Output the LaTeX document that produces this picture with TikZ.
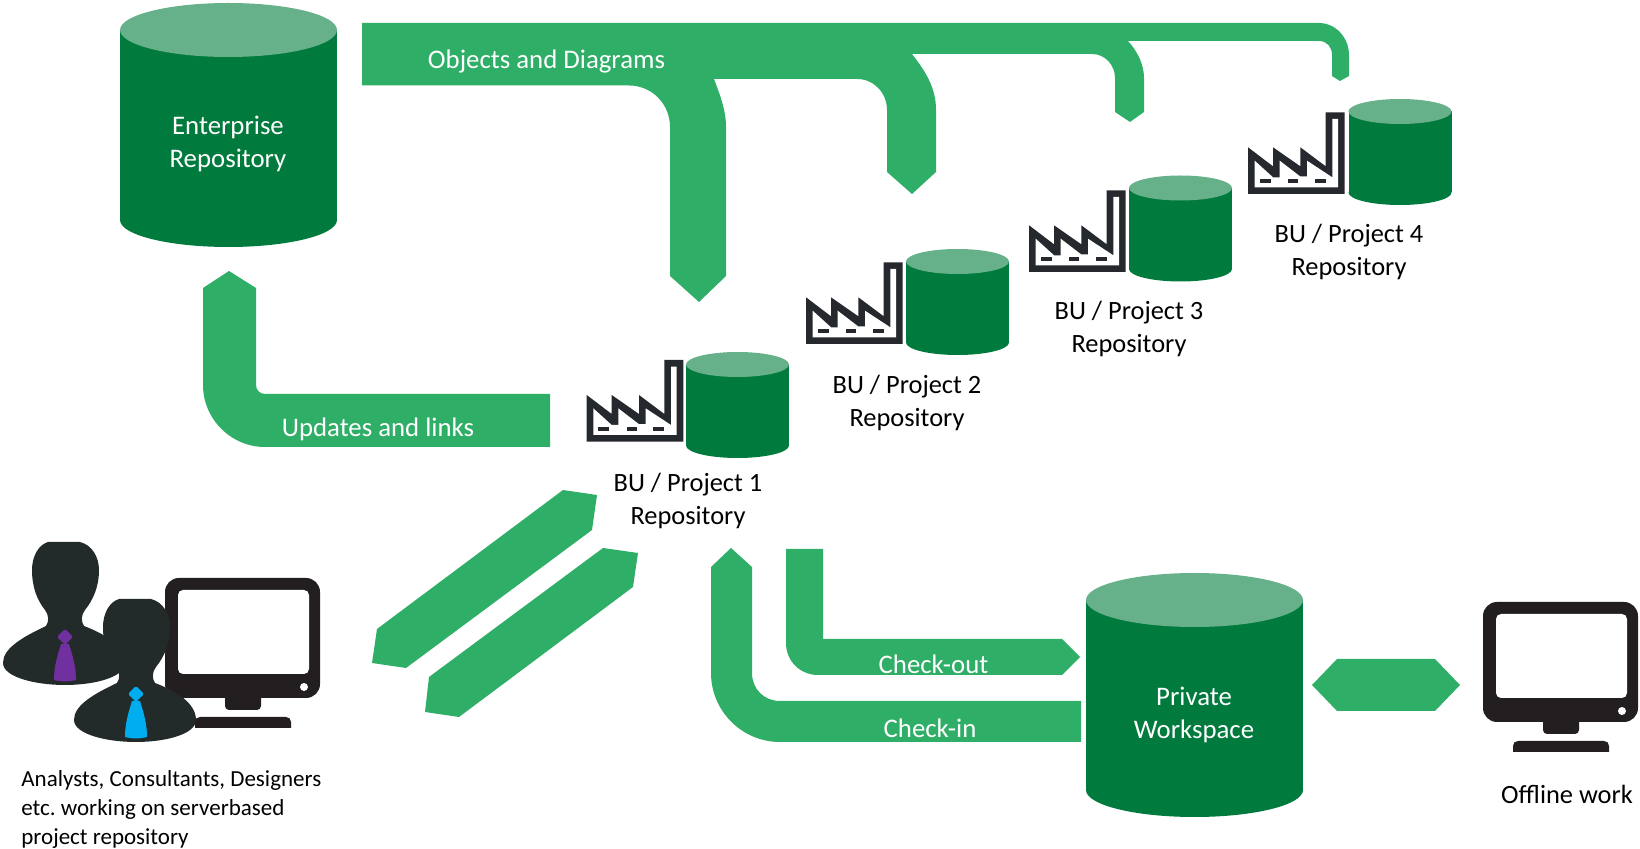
\documentclass[tikz,border=0pt]{standalone}
\usepackage{fontspec}
\setmainfont{Carlito}
\definecolor{arrowgreen}{HTML}{2FAE67}
\definecolor{cyldark}{HTML}{007A3D}
\definecolor{cyltop}{HTML}{66B08A}
\definecolor{persondark}{HTML}{232A2A}
\definecolor{screendark}{HTML}{231F20}
\definecolor{factorydark}{HTML}{25282D}
\definecolor{tiepurple}{HTML}{7030A0}
\definecolor{tieblue}{HTML}{00AEEF}

\begin{document}
\begin{tikzpicture}[
    x=0.5pt, y=-0.5pt,
    inarrow/.style={font=\fontsize{13.4}{16.5}\selectfont, text=white, align=center, inner sep=0pt, anchor=base},
    caption/.style={font=\fontsize{13.2}{16.5}\selectfont, text=black, align=center, inner sep=0pt, anchor=base},
    blockarrow/.style={fill=arrowgreen},
    pics/repocyl/.style n args={3}{code={
        \fill[cyldark] (0,#2-#3) ellipse [x radius=#1, y radius=#3];
        \fill[cyldark] (-#1,-#2+#3) rectangle (#1,#2-#3);
        \fill[cyltop] (0,-#2+#3) ellipse [x radius=#1, y radius=#3];
    }},
    pics/bigrepo/.style={/tikz/pics/repocyl={108.5}{122}{27}},
    pics/smallrepo/.style={/tikz/pics/repocyl={51.5}{53}{12.5}},
    pics/factory/.style={code={
        \fill[factorydark] (0,-46.7) -- (25,-27.7) -- (25,-46.7) -- (52.3,-27.7) -- (52.3,-46.7) -- (77.7,-27.7)
            -- (77.7,-81.7) -- (96.7,-81.7) -- (96.7,0) -- (0,0) -- cycle;
        \fill[white] (6.7,-33.3) -- (25,-16.7) -- (31.7,-16.7) -- (31.7,-33.3) -- (52.3,-17.5) -- (59,-17.5) -- (59,-33.3)
            -- (84.3,-16.7) -- (84.3,-75) -- (90,-75) -- (90,-6.7) -- (6.7,-6.7) -- cycle;
        \foreach \a/\b in {11.7/22.7, 40/50, 66.7/77.7}
            \fill[factorydark] (\a,-15) rectangle (\b,-10.7);
    }},
    pics/monitor/.style={code={
        \fill[screendark, rounded corners=7pt] (0,0) rectangle (155,120);
        \fill[white, rounded corners=2.5pt] (13,12) rectangle (144,96);
        \fill[white] (139,109) circle (2pt);
        \fill[screendark, rounded corners=2pt] (60,110) rectangle (96,132);
        \fill[screendark] (30,150) -- (30,144) .. controls (30,141) and (32,139) .. (35,139)
            -- (121,139) .. controls (124,139) and (126,141) .. (126,144) -- (126,150) -- cycle;
    }},
    pics/person/.style={code={
        \fill[persondark] (-17,0) -- (15,0) .. controls (27,3) and (34,15) .. (34,28)
            .. controls (34,45) and (28,58) .. (20,68) .. controls (16,73) and (16,80) .. (19,84)
            .. controls (40,92) and (60,104) .. (60,121) .. controls (60,135) and (30,143) .. (0,143)
            .. controls (-30,143) and (-62,135) .. (-62,121) .. controls (-62,106) and (-42,95) .. (-19,84)
            .. controls (-16,80) and (-16,73) .. (-20,68) .. controls (-28,58) and (-33,45) .. (-33,28)
            .. controls (-33,15) and (-27,3) .. (-17,0) -- cycle;
        \fill[#1, rounded corners=1pt] (0,87) -- (8,95) -- (0,103) -- (-8,95) -- cycle;
        \fill[#1] (-4,102) .. controls (-8,115) and (-11,125) .. (-11,138) .. controls (-4,140) and (4,140) .. (11,138)
            .. controls (11,125) and (8,115) .. (4,102) -- cycle;
    }},
]
    \useasboundingbox (0,0) rectangle (1640,849);

    % repositories
    \pic (enterprise) at (228.5,125) {bigrepo};
    \pic (private) at (1194.5,695) {bigrepo};
    \pic (repoone) at (737.5,405) {smallrepo};
    \pic (repotwo) at (957.5,302) {smallrepo};
    \pic (repothree) at (1180.5,228.5) {smallrepo};
    \pic (repofour) at (1400,152) {smallrepo};

    \pic (facone) at (586.7,441.7) {factory};
    \pic (factwo) at (806,344) {factory};
    \pic (facthree) at (1029,272) {factory};
    \pic (facfour) at (1248,194) {factory};

    \node[inarrow] (entlabel) at (228,168) {Enterprise\\Repository};
    \node[inarrow] (privlabel) at (1194,739) {Private\\Workspace};
    \node[caption] (onelabel) at (688,525) {BU / Project 1\\Repository};
    \node[caption] (twolabel) at (907,426.5) {BU / Project 2\\Repository};
    \node[caption] (threelabel) at (1129,353) {BU / Project 3\\Repository};
    \node[caption] (fourlabel) at (1349,276) {BU / Project 4\\Repository};

    % block arrows
    \fill[blockarrow] (362,23) -- (362,85.5) -- (629,85.5) .. controls (652,85.5) and (670,104) .. (670,127)
        -- (670,276) -- (699,302) -- (726,276) -- (726,127) .. controls (726,110) and (720,95) .. (714,79)
        -- (857,79) .. controls (874,79) and (887,93) .. (887,110) -- (887,172) -- (912,194) -- (936,172)
        -- (936,110) .. controls (936,88) and (926,72) .. (912,54) -- (1092,54) .. controls (1105,54) and (1115,65) .. (1115,78)
        -- (1115,112) -- (1130,122) -- (1144,112) -- (1144,78) .. controls (1144,65) and (1138,52) .. (1128,41)
        -- (1319,41) .. controls (1327,41) and (1332,47) .. (1332,55) -- (1332,76) -- (1340,81) -- (1349,76)
        -- (1349,55) .. controls (1349,38) and (1336,23) .. (1319,23) -- cycle;
    \fill[blockarrow] (229,271) -- (256,288) -- (256,385) .. controls (256,390) and (260,394) .. (265,394)
        -- (550,394) -- (550,447) -- (265,447) .. controls (231,447) and (203,419) .. (203,385) -- (203,288) -- cycle;
    \fill[blockarrow] (563,490) -- (597,495) -- (592,530) -- (406,668) -- (372,663) -- (377,629) -- cycle;
    \fill[blockarrow] (603,548) -- (638,553) -- (633,587) -- (459,717) -- (425,712) -- (429,677) -- cycle;
    \fill[blockarrow] (731,548) -- (752,567) -- (752,673) .. controls (752,689) and (764,701) .. (780,701)
        -- (1081,701) -- (1081,742) -- (780,742) .. controls (742,742) and (711,711) .. (711,673) -- (711,567) -- cycle;
    \fill[blockarrow] (786,549) -- (823,549) -- (823,639) -- (1062,639) -- (1080,657) -- (1062,675) -- (818,675)
        .. controls (800,675) and (786,661) .. (786,643) -- cycle;
    \fill[blockarrow] (1312,685) -- (1337,659) -- (1435,659) -- (1460,685) -- (1435,711) -- (1337,711) -- cycle;

    \node[inarrow] (objects) at (546.5,69) {Objects and Diagrams};
    \node[inarrow] (updates) at (378,437) {Updates and links};
    \node[inarrow] (checkout) at (933.5,674) {Check-out};
    \node[inarrow] (checkin) at (930,738) {Check-in};

    % people and screens
    \pic (deskscreen) at (165,578) {monitor};
    \pic (offscreen) at (1483,602) {monitor};
    \pic (analyst) at (65,542) {person=tiepurple};
    \pic (designer) at (136,599) {person=tieblue};

    \node[caption, anchor=base west, align=left, font=\fontsize{11.5}{14.5}\selectfont] (staff) at (21,845)
        {Analysts, Consultants, Designers\\etc.\ working on serverbased\\project repository};
    \node[caption] (offline) at (1567,804) {Offline work};
\end{tikzpicture}
\end{document}
